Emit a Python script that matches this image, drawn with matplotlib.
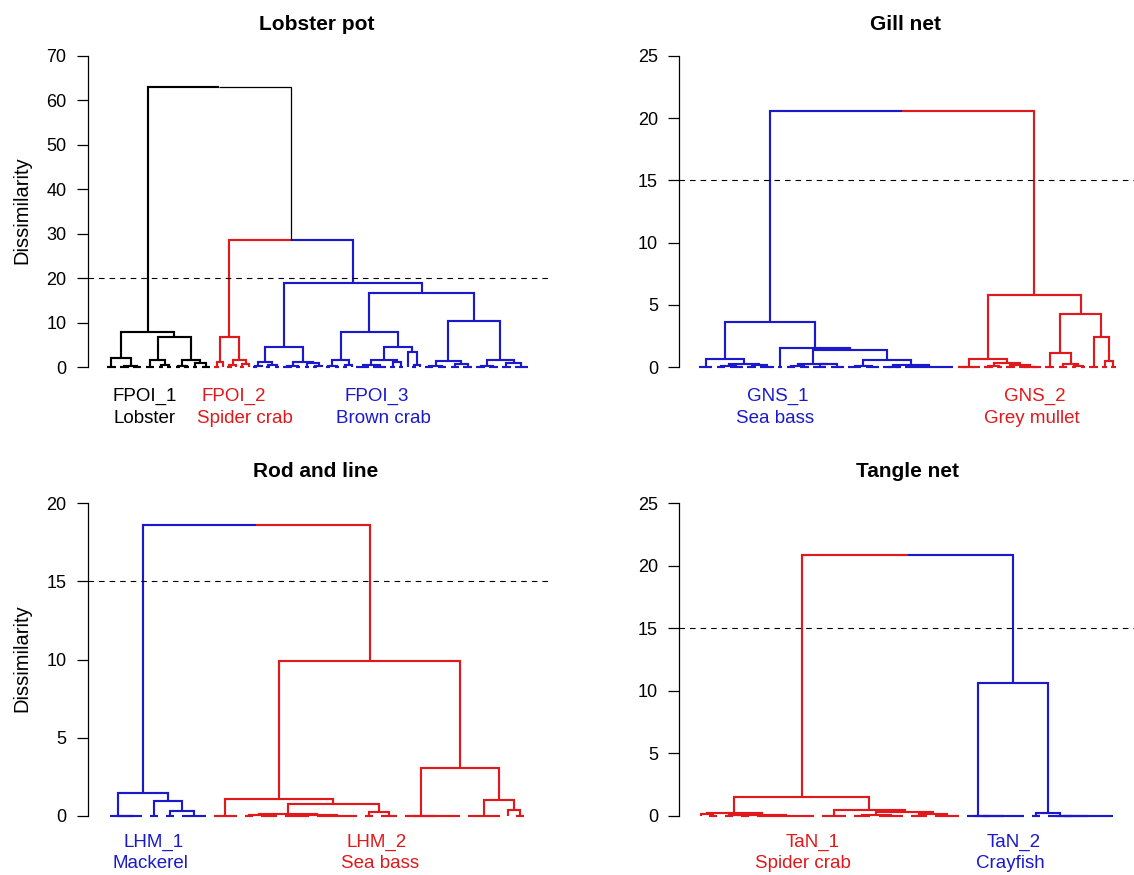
import matplotlib
matplotlib.use("Agg")
import matplotlib.pyplot as plt

# ---------------- data: dendrogram trees ----------------
# node = [merge height, left, right]; an int k = k leaves joined at height 0
FPOI_1 = [7.9,
          [2.0, 3, [0.4, 3, 3]],
          [6.9,
           [1.6, 3, [0.6, 2, 2]],
           [1.7, [0.3, 2, 2], [1.0, 2, 3]]]]
FPOI_2 = [6.9, [1.3, 2, 1], [1.7, [0.5, 2, 1], [0.8, 2, 1]]]
FPOI_3 = [18.9,
          [4.6,
           [1.3, [0.3, 2, 1], [0.6, 2, 2]],
           [1.3, [0.4, 3, 2], [0.9, 2, [0.3, 2, 1]]]],
          [16.6,
           [7.9,
            [1.7, [0.3, 2, 2], [0.6, 2, 1]],
            [4.6,
             [1.7, [0.5, 4, 4], [1.1, 2, 2]],
             [3.5, 1, [0.5, 2, 1]]]],
           [10.4,
            [1.5, [0.4, 3, 3], [0.7, 3, 3]],
            [1.7, [0.3, 3, 3], [0.9, 3, 4]]]]]
lobster_top = [63.0, 28.6]

GNS_1 = [3.6,
         [0.67, 4, [0.25, [0.1, 3, 4], [0.2, 3, 4]]],
         [1.57, 2,
          [1.35,
           [0.25, [0.1, 3, 3], [0.3, 4, 4]],
           [0.6, [0.1, 4, 4], [0.15, [0.05, 3, 2], 12]]]]]
GNS_2 = [5.8,
         [0.67, [0.05, 3, 3], [0.35, [0.1, 3, 2], [0.15, 3, [0.05, 3, 3]]]],
         [4.28,
          [1.17, 3, [0.3, 3, [0.1, 2, 2]]],
          [2.4, 3, [0.5, 2, 2]]]]
gill_top = 20.6

LHM_1 = [1.47, [0, 1, [0, 1, 3]], [0.96, 2, [0.32, 2, 4]]]
LHM_2 = [9.9,
         [1.05, 4,
          [0.73,
           [0.08, [0.06, 2, 3], [0.03, 4, 6]],
           [0.26, 2, 3]]],
         [3.03, [0, 1, 7],
          [1.0, 5, [0.36, 1, 2]]]]
rod_top = 18.6

TaN_1 = [1.47,
         [0.2, [0.1, 1, 2], [0.05, [0.03, 2, 2], 8]],
         [0.46, 4,
          [0.32, [0.06, 3, 4], [0.15, 3, 4]]]]
TaN_2 = [10.6, [0, 1, [0, 1, 6]], [0.19, 2, [0, 1, [0, 1, 7]]]]
tangle_top = 20.9

titles = ["Lobster pot", "Gill net", "Rod and line", "Tangle net"]
cut_heights = [20, 15, 15, 15]
y_max = [70, 25, 20, 25]
y_step = [10, 5, 5, 5]
group_codes = [["FPOI_1", "FPOI_2", "FPOI_3"], ["GNS_1", "GNS_2"],
               ["LHM_1", "LHM_2"], ["TaN_1", "TaN_2"]]
group_species = [["Lobster", "Spider crab", "Brown crab"], ["Sea bass", "Grey mullet"],
                 ["Mackerel", "Sea bass"], ["Spider crab", "Crayfish"]]

RED = "#e0191c"
BLUE = "#1a1acc"
BLACK = "#000000"

trees = [
    [lobster_top[0], (BLACK, FPOI_1), [lobster_top[1], (RED, FPOI_2), (BLUE, FPOI_3)]],
    [gill_top, (BLUE, GNS_1), (RED, GNS_2)],
    [rod_top, (BLUE, LHM_1), (RED, LHM_2)],
    [tangle_top, (RED, TaN_1), (BLUE, TaN_2)],
]
label_colors = [[BLACK, RED, BLUE], [BLUE, RED], [BLUE, RED], [RED, BLUE]]

# ---------------- layout (pixels) ----------------
W, H = 1134, 875
plt.rcParams["font.family"] = ["Liberation Sans", "DejaVu Sans"]
fig = plt.figure(figsize=(W / 100, H / 100), dpi=100)

panels = [
    dict(spine=87.5, right=548, y0=367.3, ytop=55.7, first=107.1, last=527.8,
         title=(316.3, 29.5), ylab=(21.4, 210),
         codes=[(144.6, 400.5), (233.8, 400.5), (376.6, 400.5)],
         species=[(144.6, 422.7), (244.5, 422.7), (383.8, 422.7)]),
    dict(spine=679, right=1134, y0=367.3, ytop=55.7, first=699, last=1115.6,
         title=(905.9, 29.5), ylab=None,
         codes=[(777.8, 401), (1034.7, 401)],
         species=[(774.8, 423), (1032.1, 423)]),
    dict(spine=87.5, right=548, y0=815.7, ytop=503.3, first=110, last=524,
         title=(316, 477.3), ylab=(21.4, 658),
         codes=[(153.5, 846.7), (376.6, 846.7)],
         species=[(150, 868.3), (380, 868.3)]),
    dict(spine=679, right=1134, y0=815.7, ytop=503.3, first=701, last=1112.5,
         title=(907, 477.3), ylab=None,
         codes=[(812.5, 847.3), (1013.8, 847.3)],
         species=[(803.4, 868.3), (1010, 868.3)]),
]

LW = 1.55
LW_THIN = 0.9


def n_leaves(node):
    if isinstance(node, tuple):
        return n_leaves(node[1])
    if isinstance(node, int):
        return node
    return n_leaves(node[1]) + n_leaves(node[2])


def draw(ax, node, start, col=None):
    if isinstance(node, tuple):
        c, sub = node
        x, h, n, _ = draw(ax, sub, start, c)
        return x, h, n, c
    if isinstance(node, int):
        x0, x1 = start, start + node - 1
        if node > 1:
            ax.plot([x0, x1], [0, 0], color=col, lw=LW, solid_capstyle="butt")
        return (x0 + x1) / 2.0, 0.0, node, col
    h, left, right = node
    xl, hl, nl, cl = draw(ax, left, start, col)
    xr, hr, nr, cr = draw(ax, right, start + nl, col)
    x = (xl + xr) / 2.0
    for xc, hc, cc in ((xl, hl, cl), (xr, hr, cr)):
        ax.plot([xc, xc, x], [hc, h, h], color=cc if cc else BLACK,
                lw=LW if cc else LW_THIN, solid_joinstyle="miter",
                solid_capstyle="butt")
    return x, h, nl + nr, col


def fx(x):
    return x / W


def fy(y):
    return 1 - y / H


for i, p in enumerate(panels):
    tree = trees[i]
    N = n_leaves(tree)
    s = (p["last"] - p["first"]) / (N - 1)
    top_px = p["ytop"] - 8
    bot_px = p["y0"] + 12
    ax = fig.add_axes([fx(p["spine"]), fy(bot_px), (p["right"] - p["spine"]) / W,
                       (bot_px - top_px) / H])
    ppu = (p["y0"] - p["ytop"]) / y_max[i]
    ax.set_xlim(1 + (p["spine"] - p["first"]) / s, 1 + (p["right"] - p["first"]) / s)
    ax.set_ylim(-12 / ppu, y_max[i] + 8 / ppu)
    draw(ax, tree, 1)
    ax.axhline(cut_heights[i], color=BLACK, lw=0.8, ls=(0, (5, 4.5)))
    for sp in ("top", "right", "bottom"):
        ax.spines[sp].set_visible(False)
    ax.spines["left"].set_bounds(0, y_max[i])
    ax.spines["left"].set_linewidth(0.9)
    ax.set_xticks([])
    ax.set_yticks(list(range(0, y_max[i] + 1, y_step[i])))
    ax.tick_params(axis="y", length=7.7, width=0.9, pad=7.5, labelsize=13,
                   colors=BLACK)
    ax.patch.set_visible(False)

    tx, ty = p["title"]
    fig.text(fx(tx), fy(ty), titles[i], ha="center", va="baseline",
             fontsize=15, fontweight="bold")
    if p["ylab"]:
        lx, ly = p["ylab"]
        fig.text(fx(lx), fy(ly), "Dissimilarity", rotation=90, ha="center",
                 va="center", fontsize=14.5)
    for j, code in enumerate(group_codes[i]):
        cx, cy = p["codes"][j]
        fig.text(fx(cx), fy(cy), code, ha="center", va="baseline", fontsize=13.5,
                 color=label_colors[i][j])
        sx, sy = p["species"][j]
        fig.text(fx(sx), fy(sy), group_species[i][j], ha="center", va="baseline",
                 fontsize=13.5, color=label_colors[i][j])

fig.savefig("out.png", dpi=100, facecolor="white")
